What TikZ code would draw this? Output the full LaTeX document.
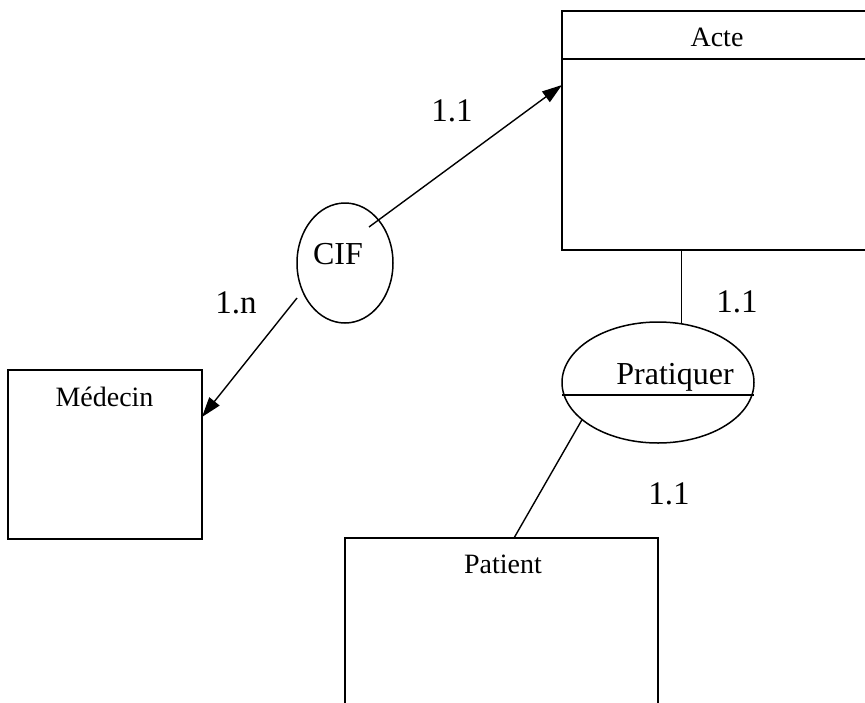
\documentclass[tikz,border=0pt]{standalone}
\usepackage{fontspec}
\setmainfont{Liberation Serif}
\usetikzlibrary{positioning,arrows.meta,shapes.geometric}
\tikzset{
  entite/.style={draw, line width=2pt, rectangle, inner sep=0pt, outer sep=0pt},
  assoc/.style={draw, line width=1.5pt, ellipse, inner sep=0pt, outer sep=0pt},
  nom/.style={font=\fontsize{28}{34}\selectfont, anchor=base, inner sep=0pt},
  nomassoc/.style={font=\fontsize{32}{38}\selectfont, anchor=base, inner sep=0pt},
  card/.style={font=\fontsize{33}{40}\selectfont, anchor=base, inner sep=0pt},
  lien/.style={line width=1.4pt},
  fleche/.style={-{Triangle[length=20pt, width=13pt]}, line width=1.4pt},
}
\begin{document}
\begin{tikzpicture}[x=1pt, y=-1pt]
\useasboundingbox (0,0) rectangle (865,702);
\clip (0,0) rectangle (865,702);
% entites
\node[entite, minimum width=310pt, minimum height=239pt] (acte) at (717,130.5) {};
\node[entite, minimum width=194pt, minimum height=169pt] (medecin) at (105,454.5) {};
\node[entite, minimum width=313pt, minimum height=200pt] (patient) at (501.5,638) {};
\draw[line width=2pt] ([yshift=-48pt]acte.north west) -- ([yshift=-48pt]acte.north east);
\node[nom] (acteT) at (717,46) {Acte};
\node[nom] (medecinT) at (104.5,406) {Médecin};
\node[nom] (patientT) at (503,573) {Patient};
% associations
\node[assoc, minimum width=96pt, minimum height=120pt] (cif) at (345,263) {};
\node[assoc, minimum width=192pt, minimum height=121pt] (prat) at (658,382.5) {};
\draw[lien] ([yshift=-12.5pt]prat.west) -- ([yshift=-12.5pt]prat.east);
\node[nomassoc] (cifT) at (338,264) {CIF};
\node[nomassoc] (pratT) at (675,384) {Pratiquer};
% cardinalites
\node[card] (cActeCif) at (452,121) {1.1};
\node[card] (cMedCif) at (236,313) {1.n};
\node[card] (cActePrat) at (737,312) {1.1};
\node[card] (cPatPrat) at (669,504) {1.1};
% liens
\draw[fleche] ([shift={(24pt,36pt)}]cif.center) -- ([yshift=45.5pt]acte.west);
\draw[fleche] ([shift={(-48pt,-35pt)}]cif.center) -- ([yshift=37.5pt]medecin.east);
\draw[lien] (prat.68 |- acte.south) -- (prat.68);
\draw[lien] (prat.206) -- ([xshift=12.5pt]patient.north);
\end{tikzpicture}
\end{document}
